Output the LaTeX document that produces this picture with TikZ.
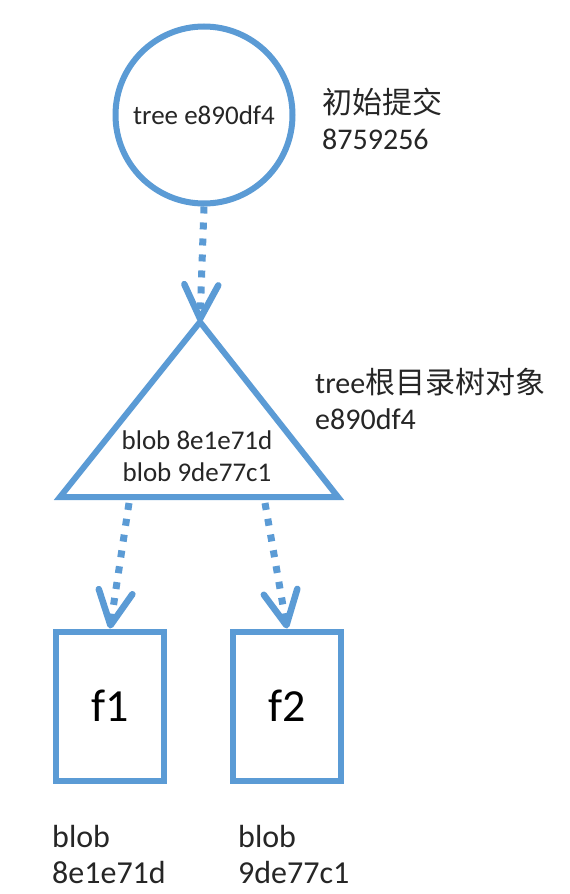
\documentclass[tikz,border=0pt]{standalone}
\usepackage{fontspec}
\setmainfont{Carlito}
\newfontfamily\cjk{Noto Sans CJK SC}
\usetikzlibrary{arrows.meta}
\definecolor{gitblue}{HTML}{5B9BD5}
\definecolor{txt}{HTML}{262626}
\begin{document}
\begin{tikzpicture}[x=1pt,y=-1pt,
  shapeline/.style={draw=gitblue,line width=6pt},
  link/.style={draw=gitblue,line width=7pt,dash pattern=on 7pt off 9pt,
    -{Straight Barb[length=34pt,width=34pt,line width=6.5pt,round]}},
  lbl/.style={text=txt,anchor=north west,inner sep=0pt,align=left},
]
\useasboundingbox[fill=white] (0,0) rectangle (570,894);
% commit
\node[circle,shapeline,minimum size=177pt,inner sep=0pt,text=txt,
  font=\fontsize{27}{32}\selectfont] (commit) at (204,115) {tree e890df4};
\node[lbl,font=\fontsize{30}{36}\selectfont] (commitlbl) at (322,88)
  {{\cjk 初始提交}\\8759256};
% tree
\coordinate (apex) at (200,322);
\coordinate (bl) at (60,497);
\coordinate (br) at (338,497);
\draw[shapeline,line join=miter] (apex) -- (br) -- (bl) -- cycle;
\node[text=txt,align=center,inner sep=0pt,
  font=\fontsize{27}{32}\selectfont] (treetext) at (197,456)
  {blob 8e1e71d\\blob 9de77c1};
\node[lbl,font=\fontsize{30}{36}\selectfont] (treelbl) at (315,368)
  {tree{\cjk 根目录树对象}\\e890df4};
\coordinate (t1) at (129,503);
\coordinate (t2) at (265,503);
% blobs
\node[shapeline,minimum width=108pt,minimum height=149pt,
  inner sep=0pt,text=black,font=\fontsize{46}{50}\selectfont] (f1) at (110,706) {f1};
\node[shapeline,minimum width=108pt,minimum height=149pt,
  inner sep=0pt,text=black,font=\fontsize{46}{50}\selectfont] (f2) at (287,706) {f2};
\node[lbl,font=\fontsize{32}{36}\selectfont] (f1lbl) at (52,825) {blob\\8e1e71d};
\node[lbl,font=\fontsize{32}{36}\selectfont] (f2lbl) at (238,825) {blob\\9de77c1};
% links
\draw[link] (commit.south) -- (apex);
\draw[link] (t1) -- (f1.north);
\draw[link] (t2) -- (f2.north);
\end{tikzpicture}
\end{document}
